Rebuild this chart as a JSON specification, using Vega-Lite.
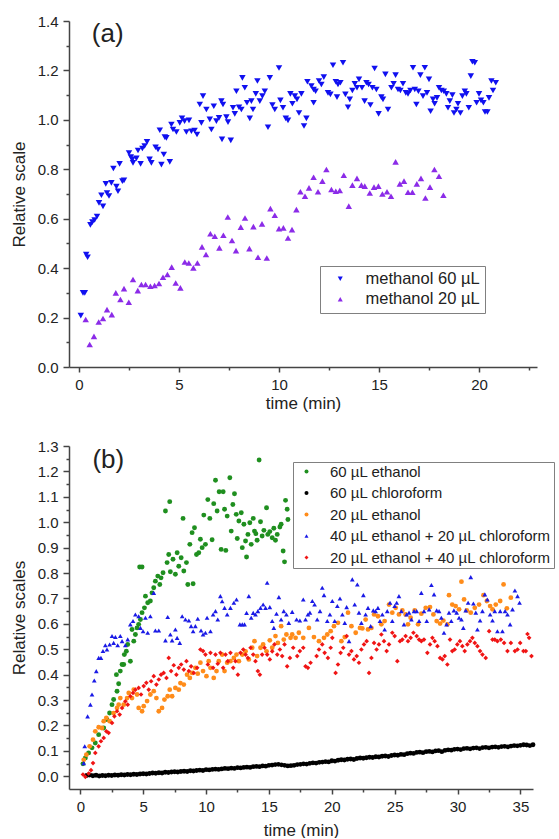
{
  "$schema": "https://vega.github.io/schema/vega-lite/v6.json",
  "padding": {"left": 10, "top": 14, "right": 0, "bottom": 0},
  "background": "white",
  "config": {"font": "Liberation Sans", "view": {"stroke": null}},
  "spacing": 79,
  "bounds": "flush",
  "resolve": {"scale": {"color": "independent", "shape": "independent"}, "legend": {"color": "independent", "shape": "independent"}},
  "vconcat": [
    {
      "width": 468,
      "height": 346,
      "layer": [
        {
          "data": {"values": [
            {"sa":"M60","t":0.09,"v":0.208},{"sa":"M60","t":0.2,"v":0.30},{"sa":"M60","t":0.29,"v":0.30},{"sa":"M60","t":0.36,"v":0.455},{"sa":"M60","t":0.43,"v":0.444},{"sa":"M60","t":0.57,"v":0.575},{"sa":"M60","t":0.67,"v":0.586},{"sa":"M60","t":0.78,"v":0.595},{"sa":"M60","t":0.9,"v":0.609},{"sa":"M60","t":1.0,"v":0.664},{"sa":"M60","t":1.2,"v":0.65},{"sa":"M60","t":1.12,"v":0.695},{"sa":"M60","t":1.34,"v":0.741},{"sa":"M60","t":1.5,"v":0.692},{"sa":"M60","t":1.4,"v":0.704},{"sa":"M60","t":1.62,"v":0.745},{"sa":"M60","t":1.72,"v":0.803},{"sa":"M60","t":1.95,"v":0.711},{"sa":"M60","t":1.87,"v":0.73},{"sa":"M60","t":2.03,"v":0.822},{"sa":"M60","t":2.17,"v":0.752},{"sa":"M60","t":2.25,"v":0.755},{"sa":"M60","t":2.5,"v":0.866},{"sa":"M60","t":2.59,"v":0.849},{"sa":"M60","t":2.7,"v":0.826},{"sa":"M60","t":2.67,"v":0.84},{"sa":"M60","t":2.87,"v":0.844},{"sa":"M60","t":2.95,"v":0.876},{"sa":"M60","t":3.08,"v":0.822},{"sa":"M60","t":3.17,"v":0.884},{"sa":"M60","t":3.28,"v":0.894},{"sa":"M60","t":3.4,"v":0.911},{"sa":"M60","t":3.53,"v":0.84},{"sa":"M60","t":3.62,"v":0.826},{"sa":"M60","t":3.83,"v":0.889},{"sa":"M60","t":3.95,"v":0.88},{"sa":"M60","t":4.12,"v":0.819},{"sa":"M60","t":4.24,"v":0.86},{"sa":"M60","t":4.54,"v":0.83},{"sa":"M60","t":4.04,"v":0.958},{"sa":"M60","t":4.37,"v":0.927},{"sa":"M60","t":4.29,"v":0.93},{"sa":"M60","t":4.62,"v":0.981},{"sa":"M60","t":4.7,"v":0.961},{"sa":"M60","t":4.87,"v":0.951},{"sa":"M60","t":5.04,"v":0.988},{"sa":"M60","t":5.15,"v":1.006},{"sa":"M60","t":5.28,"v":0.995},{"sa":"M60","t":5.37,"v":0.951},{"sa":"M60","t":5.5,"v":0.998},{"sa":"M60","t":5.62,"v":0.954},{"sa":"M60","t":5.78,"v":0.957},{"sa":"M60","t":5.9,"v":0.941},{"sa":"M60","t":6.04,"v":1.062},{"sa":"M60","t":6.12,"v":0.988},{"sa":"M60","t":6.2,"v":1.096},{"sa":"M60","t":6.37,"v":1.042},{"sa":"M60","t":6.54,"v":1.002},{"sa":"M60","t":6.62,"v":0.961},{"sa":"M60","t":6.74,"v":1.055},{"sa":"M60","t":6.87,"v":0.995},{"sa":"M60","t":7.0,"v":1.008},{"sa":"M60","t":7.12,"v":1.076},{"sa":"M60","t":7.15,"v":0.921},{"sa":"M60","t":7.2,"v":1.062},{"sa":"M60","t":7.37,"v":1.011},{"sa":"M60","t":7.45,"v":0.991},{"sa":"M60","t":7.59,"v":0.917},{"sa":"M60","t":7.7,"v":1.049},{"sa":"M60","t":7.79,"v":1.024},{"sa":"M60","t":7.87,"v":1.116},{"sa":"M60","t":8.0,"v":1.051},{"sa":"M60","t":8.12,"v":1.042},{"sa":"M60","t":8.17,"v":1.17},{"sa":"M60","t":8.29,"v":1.13},{"sa":"M60","t":8.4,"v":1.069},{"sa":"M60","t":8.54,"v":1.006},{"sa":"M60","t":8.62,"v":1.076},{"sa":"M60","t":8.7,"v":1.042},{"sa":"M60","t":8.84,"v":1.105},{"sa":"M60","t":8.92,"v":1.157},{"sa":"M60","t":9.04,"v":1.076},{"sa":"M60","t":9.17,"v":1.096},{"sa":"M60","t":9.29,"v":1.116},{"sa":"M60","t":9.45,"v":0.97},{"sa":"M60","t":9.54,"v":1.17},{"sa":"M60","t":9.67,"v":1.06},{"sa":"M60","t":9.79,"v":1.042},{"sa":"M60","t":10.0,"v":1.21},{"sa":"M60","t":10.07,"v":1.079},{"sa":"M60","t":10.2,"v":1.049},{"sa":"M60","t":10.34,"v":1.006},{"sa":"M60","t":10.45,"v":0.998},{"sa":"M60","t":10.57,"v":1.105},{"sa":"M60","t":10.67,"v":1.065},{"sa":"M60","t":10.79,"v":1.096},{"sa":"M60","t":10.9,"v":1.083},{"sa":"M60","t":11.0,"v":1.028},{"sa":"M60","t":11.12,"v":1.105},{"sa":"M60","t":11.25,"v":0.975},{"sa":"M60","t":11.37,"v":1.006},{"sa":"M60","t":11.42,"v":1.154},{"sa":"M60","t":11.62,"v":1.137},{"sa":"M60","t":11.73,"v":1.123},{"sa":"M60","t":11.83,"v":1.116},{"sa":"M60","t":11.73,"v":1.069},{"sa":"M60","t":12.0,"v":1.157},{"sa":"M60","t":12.12,"v":1.143},{"sa":"M60","t":12.24,"v":1.173},{"sa":"M60","t":12.45,"v":1.109},{"sa":"M60","t":12.57,"v":1.103},{"sa":"M60","t":12.7,"v":1.221},{"sa":"M60","t":12.84,"v":1.154},{"sa":"M60","t":12.95,"v":1.143},{"sa":"M60","t":13.07,"v":1.15},{"sa":"M60","t":12.9,"v":1.092},{"sa":"M60","t":13.2,"v":1.231},{"sa":"M60","t":13.32,"v":1.103},{"sa":"M60","t":13.45,"v":1.051},{"sa":"M60","t":13.54,"v":1.083},{"sa":"M60","t":13.67,"v":1.119},{"sa":"M60","t":13.79,"v":1.146},{"sa":"M60","t":13.9,"v":1.13},{"sa":"M60","t":14.0,"v":1.164},{"sa":"M60","t":14.15,"v":1.13},{"sa":"M60","t":14.28,"v":1.076},{"sa":"M60","t":14.37,"v":1.15},{"sa":"M60","t":14.48,"v":1.143},{"sa":"M60","t":14.57,"v":1.06},{"sa":"M60","t":14.67,"v":1.13},{"sa":"M60","t":14.78,"v":1.208},{"sa":"M60","t":14.87,"v":1.123},{"sa":"M60","t":14.98,"v":1.024},{"sa":"M60","t":15.12,"v":1.092},{"sa":"M60","t":15.2,"v":1.083},{"sa":"M60","t":15.32,"v":1.184},{"sa":"M60","t":15.45,"v":1.042},{"sa":"M60","t":15.62,"v":1.13},{"sa":"M60","t":15.73,"v":1.146},{"sa":"M60","t":15.83,"v":1.181},{"sa":"M60","t":15.95,"v":1.123},{"sa":"M60","t":16.07,"v":1.119},{"sa":"M60","t":16.2,"v":1.146},{"sa":"M60","t":16.34,"v":1.109},{"sa":"M60","t":16.45,"v":1.105},{"sa":"M60","t":16.57,"v":1.119},{"sa":"M60","t":16.7,"v":1.211},{"sa":"M60","t":16.79,"v":1.123},{"sa":"M60","t":16.87,"v":1.062},{"sa":"M60","t":16.97,"v":1.116},{"sa":"M60","t":17.07,"v":1.181},{"sa":"M60","t":17.2,"v":1.096},{"sa":"M60","t":17.29,"v":1.211},{"sa":"M60","t":17.4,"v":1.109},{"sa":"M60","t":17.5,"v":1.164},{"sa":"M60","t":17.58,"v":1.035},{"sa":"M60","t":17.7,"v":1.083},{"sa":"M60","t":17.78,"v":1.065},{"sa":"M60","t":17.9,"v":1.089},{"sa":"M60","t":18.0,"v":1.13},{"sa":"M60","t":18.12,"v":1.119},{"sa":"M60","t":18.24,"v":1.116},{"sa":"M60","t":18.37,"v":1.105},{"sa":"M60","t":18.45,"v":1.049},{"sa":"M60","t":18.54,"v":1.076},{"sa":"M60","t":18.67,"v":1.1},{"sa":"M60","t":18.75,"v":1.028},{"sa":"M60","t":18.87,"v":1.042},{"sa":"M60","t":18.95,"v":1.065},{"sa":"M60","t":19.07,"v":1.028},{"sa":"M60","t":19.17,"v":1.096},{"sa":"M60","t":19.29,"v":1.116},{"sa":"M60","t":19.37,"v":1.105},{"sa":"M60","t":19.49,"v":1.049},{"sa":"M60","t":19.59,"v":1.177},{"sa":"M60","t":19.67,"v":1.235},{"sa":"M60","t":19.79,"v":1.231},{"sa":"M60","t":19.88,"v":1.069},{"sa":"M60","t":20.0,"v":1.105},{"sa":"M60","t":20.1,"v":1.079},{"sa":"M60","t":20.22,"v":1.069},{"sa":"M60","t":20.3,"v":1.032},{"sa":"M60","t":20.42,"v":1.032},{"sa":"M60","t":20.5,"v":1.089},{"sa":"M60","t":20.62,"v":1.157},{"sa":"M60","t":20.7,"v":1.119},{"sa":"M60","t":20.84,"v":1.15},
            {"sa":"M20","t":0.335,"v":0.192},{"sa":"M20","t":0.535,"v":0.091},{"sa":"M20","t":0.75,"v":0.124},{"sa":"M20","t":0.985,"v":0.182},{"sa":"M20","t":1.2,"v":0.196},{"sa":"M20","t":1.4,"v":0.232},{"sa":"M20","t":1.64,"v":0.212},{"sa":"M20","t":1.84,"v":0.30},{"sa":"M20","t":2.07,"v":0.273},{"sa":"M20","t":2.25,"v":0.317},{"sa":"M20","t":2.49,"v":0.262},{"sa":"M20","t":2.7,"v":0.354},{"sa":"M20","t":2.94,"v":0.309},{"sa":"M20","t":3.12,"v":0.334},{"sa":"M20","t":3.33,"v":0.334},{"sa":"M20","t":3.57,"v":0.327},{"sa":"M20","t":3.78,"v":0.33},{"sa":"M20","t":4.0,"v":0.338},{"sa":"M20","t":4.2,"v":0.363},{"sa":"M20","t":4.42,"v":0.374},{"sa":"M20","t":4.635,"v":0.404},{"sa":"M20","t":4.835,"v":0.34},{"sa":"M20","t":5.07,"v":0.32},{"sa":"M20","t":5.29,"v":0.425},{"sa":"M20","t":5.49,"v":0.421},{"sa":"M20","t":5.72,"v":0.401},{"sa":"M20","t":5.92,"v":0.421},{"sa":"M20","t":6.15,"v":0.486},{"sa":"M20","t":6.35,"v":0.455},{"sa":"M20","t":6.57,"v":0.539},{"sa":"M20","t":6.79,"v":0.529},{"sa":"M20","t":7.02,"v":0.482},{"sa":"M20","t":7.22,"v":0.533},{"sa":"M20","t":7.44,"v":0.607},{"sa":"M20","t":7.65,"v":0.512},{"sa":"M20","t":7.85,"v":0.471},{"sa":"M20","t":8.09,"v":0.566},{"sa":"M20","t":8.3,"v":0.603},{"sa":"M20","t":8.52,"v":0.479},{"sa":"M20","t":8.72,"v":0.568},{"sa":"M20","t":8.95,"v":0.444},{"sa":"M20","t":9.15,"v":0.579},{"sa":"M20","t":9.39,"v":0.441},{"sa":"M20","t":9.57,"v":0.641},{"sa":"M20","t":9.79,"v":0.614},{"sa":"M20","t":10.0,"v":0.56},{"sa":"M20","t":10.22,"v":0.563},{"sa":"M20","t":10.45,"v":0.522},{"sa":"M20","t":10.65,"v":0.556},{"sa":"M20","t":10.87,"v":0.637},{"sa":"M20","t":11.07,"v":0.709},{"sa":"M20","t":11.3,"v":0.691},{"sa":"M20","t":11.5,"v":0.725},{"sa":"M20","t":11.73,"v":0.768},{"sa":"M20","t":11.95,"v":0.709},{"sa":"M20","t":12.17,"v":0.752},{"sa":"M20","t":12.37,"v":0.799},{"sa":"M20","t":12.62,"v":0.718},{"sa":"M20","t":12.84,"v":0.711},{"sa":"M20","t":13.04,"v":0.714},{"sa":"M20","t":13.24,"v":0.776},{"sa":"M20","t":13.49,"v":0.651},{"sa":"M20","t":13.67,"v":0.736},{"sa":"M20","t":13.9,"v":0.763},{"sa":"M20","t":14.12,"v":0.736},{"sa":"M20","t":14.29,"v":0.732},{"sa":"M20","t":14.54,"v":0.704},{"sa":"M20","t":14.75,"v":0.728},{"sa":"M20","t":14.97,"v":0.732},{"sa":"M20","t":15.17,"v":0.70},{"sa":"M20","t":15.4,"v":0.709},{"sa":"M20","t":15.6,"v":0.691},{"sa":"M20","t":15.83,"v":0.83},{"sa":"M20","t":16.04,"v":0.741},{"sa":"M20","t":16.25,"v":0.752},{"sa":"M20","t":16.45,"v":0.707},{"sa":"M20","t":16.67,"v":0.707},{"sa":"M20","t":16.89,"v":0.741},{"sa":"M20","t":17.1,"v":0.763},{"sa":"M20","t":17.32,"v":0.684},{"sa":"M20","t":17.55,"v":0.728},{"sa":"M20","t":17.77,"v":0.799},{"sa":"M20","t":18.0,"v":0.772},{"sa":"M20","t":18.22,"v":0.695}
          ]},
          "mark": {"type": "point", "filled": true, "opacity": 1, "size": 42},
          "encoding": {
            "x": {"field": "t", "type": "quantitative", "scale": {"domain": [-0.5, 22.9], "nice": false, "zero": false},
              "axis": {"orient": "bottom", "values": [0, 5, 10, 15, 20], "title": "time (min)", "grid": false, "tickSize": 5, "tickWidth": 1.5, "domainWidth": 1.5, "domainColor": "#444", "tickColor": "#444", "labelColor": "#222", "titleColor": "#222", "labelFontSize": 15, "titleFontSize": 17, "titleFontWeight": "normal", "labelPadding": 5, "titleY": 36, "titleBaseline": "middle", "labelFlush": false}},
            "y": {"field": "v", "type": "quantitative", "scale": {"domain": [0, 1.4], "nice": false, "zero": false},
              "axis": {"orient": "left", "values": [0, 0.2, 0.4, 0.6, 0.8, 1.0, 1.2, 1.4], "format": ".1f", "title": "Relative scale", "grid": false, "tickSize": 6, "tickWidth": 1.5, "domainWidth": 1.5, "domainColor": "#444", "tickColor": "#444", "labelColor": "#222", "titleColor": "#222", "labelFontSize": 15, "titleFontSize": 17, "titleFontWeight": "normal", "labelPadding": 5, "titleX": -50, "titleBaseline": "middle", "labelFlush": false}},
            "color": {"field": "sa", "type": "nominal", "scale": {"domain": ["M60", "M20"], "range": ["#1010f0", "#8b2be8"]},
              "legend": {"orient": "none", "legendX": 251, "legendY": 245, "title": null, "strokeColor": "#808080", "fillColor": "white", "padding": 4.5, "symbolOffset": 7.5, "labelOffset": 17, "labelFontSize": 16.5, "labelLimit": 300, "labelColor": "#222", "rowPadding": 3.5, "symbolSize": 25, "labelExpr": "datum.label == 'M60' ? 'methanol 60 µL' : 'methanol 20 µL'"}},
            "shape": {"field": "sa", "type": "nominal", "scale": {"domain": ["M60", "M20"], "range": ["triangle-down", "triangle-up"]},
              "legend": {"orient": "none", "legendX": 251, "legendY": 245, "title": null, "strokeColor": "#808080", "fillColor": "white", "padding": 4.5, "symbolOffset": 7.5, "labelOffset": 17, "labelFontSize": 16.5, "labelLimit": 300, "labelColor": "#222", "rowPadding": 3.5, "symbolSize": 25, "labelExpr": "datum.label == 'M60' ? 'methanol 60 µL' : 'methanol 20 µL'"}}
          }
        },
        {
          "data": {"values": [{}]},
          "mark": {"type": "point", "opacity": 0},
          "encoding": {
            "x": {"datum": 0, "type": "quantitative", "axis": {"orient": "bottom", "values": [2.5, 7.5, 12.5, 17.5, 22.5], "labels": false, "domain": false, "title": null, "grid": false, "tickSize": 3, "tickWidth": 1.5, "tickColor": "#444"}},
            "y": {"datum": 0, "type": "quantitative", "axis": {"orient": "left", "values": [0.1, 0.3, 0.5, 0.7, 0.9, 1.1, 1.3], "labels": false, "domain": false, "title": null, "grid": false, "tickSize": 3, "tickWidth": 1.5, "tickColor": "#444"}}
          }
        },
        {
          "data": {"values": [{"t": 0.64, "v": 1.347, "lab": "(a)"}]},
          "mark": {"type": "text", "align": "left", "baseline": "middle", "fontSize": 26, "color": "#222"},
          "encoding": {
            "x": {"field": "t", "type": "quantitative", "axis": null},
            "y": {"field": "v", "type": "quantitative", "axis": null},
            "text": {"field": "lab"}
          }
        }
      ],
      "resolve": {"axis": {"x": "independent", "y": "independent"}}
    },
    {
      "width": 464,
      "height": 343,
      "layer": [
        {
          "data": {"values": [
            {"sb":"E60","t":0.21,"v":0.049},{"sb":"E60","t":0.4,"v":0.072},{"sb":"E60","t":0.66,"v":0.092},{"sb":"E60","t":0.93,"v":0.112},{"sb":"E60","t":1.19,"v":0.131},{"sb":"E60","t":1.46,"v":0.164},{"sb":"E60","t":1.86,"v":0.19},{"sb":"E60","t":2.12,"v":0.223},{"sb":"E60","t":2.33,"v":0.249},{"sb":"E60","t":2.52,"v":0.282},{"sb":"E60","t":2.65,"v":0.302},{"sb":"E60","t":2.92,"v":0.335},{"sb":"E60","t":2.87,"v":0.4},{"sb":"E60","t":3.05,"v":0.364},{"sb":"E60","t":3.18,"v":0.414},{"sb":"E60","t":3.32,"v":0.44},{"sb":"E60","t":3.45,"v":0.44},{"sb":"E60","t":3.5,"v":0.479},{"sb":"E60","t":3.66,"v":0.492},{"sb":"E60","t":3.77,"v":0.519},{"sb":"E60","t":3.98,"v":0.453},{"sb":"E60","t":4.11,"v":0.578},{"sb":"E60","t":4.25,"v":0.532},{"sb":"E60","t":4.38,"v":0.558},{"sb":"E60","t":4.51,"v":0.584},{"sb":"E60","t":4.64,"v":0.598},{"sb":"E60","t":4.78,"v":0.617},{"sb":"E60","t":4.91,"v":0.644},{"sb":"E60","t":5.1,"v":0.663},{"sb":"E60","t":5.18,"v":0.709},{"sb":"E60","t":5.36,"v":0.683},{"sb":"E60","t":5.57,"v":0.69},{"sb":"E60","t":5.7,"v":0.722},{"sb":"E60","t":5.84,"v":0.742},{"sb":"E60","t":5.97,"v":0.768},{"sb":"E60","t":4.72,"v":0.824},{"sb":"E60","t":4.91,"v":0.824},{"sb":"E60","t":6.16,"v":0.788},{"sb":"E60","t":6.32,"v":0.755},{"sb":"E60","t":6.42,"v":0.781},{"sb":"E60","t":6.58,"v":0.801},{"sb":"E60","t":6.77,"v":1.044},{"sb":"E60","t":7.11,"v":1.081},{"sb":"E60","t":6.9,"v":0.841},{"sb":"E60","t":7.03,"v":0.873},{"sb":"E60","t":7.16,"v":0.805},{"sb":"E60","t":7.37,"v":0.854},{"sb":"E60","t":7.56,"v":0.795},{"sb":"E60","t":7.7,"v":0.88},{"sb":"E60","t":7.83,"v":0.827},{"sb":"E60","t":8.02,"v":0.86},{"sb":"E60","t":8.17,"v":1.015},{"sb":"E60","t":8.23,"v":0.808},{"sb":"E60","t":8.44,"v":0.841},{"sb":"E60","t":8.55,"v":0.755},{"sb":"E60","t":8.71,"v":0.913},{"sb":"E60","t":8.89,"v":0.959},{"sb":"E60","t":8.97,"v":0.758},{"sb":"E60","t":9.08,"v":0.978},{"sb":"E60","t":9.24,"v":0.873},{"sb":"E60","t":9.42,"v":0.88},{"sb":"E60","t":9.55,"v":0.933},{"sb":"E60","t":9.69,"v":0.9},{"sb":"E60","t":9.82,"v":1.028},{"sb":"E60","t":9.95,"v":0.913},{"sb":"E60","t":10.14,"v":1.089},{"sb":"E60","t":10.3,"v":1.015},{"sb":"E60","t":10.48,"v":0.931},{"sb":"E60","t":10.61,"v":1.073},{"sb":"E60","t":10.75,"v":1.165},{"sb":"E60","t":10.88,"v":1.044},{"sb":"E60","t":11.04,"v":1.12},{"sb":"E60","t":11.2,"v":0.893},{"sb":"E60","t":11.36,"v":1.12},{"sb":"E60","t":11.47,"v":1.051},{"sb":"E60","t":11.57,"v":0.889},{"sb":"E60","t":11.68,"v":1.024},{"sb":"E60","t":11.89,"v":1.175},{"sb":"E60","t":12.0,"v":0.965},{"sb":"E60","t":12.13,"v":1.07},{"sb":"E60","t":12.26,"v":1.112},{"sb":"E60","t":12.4,"v":1.031},{"sb":"E60","t":12.48,"v":0.936},{"sb":"E60","t":12.61,"v":1.005},{"sb":"E60","t":12.8,"v":1.037},{"sb":"E60","t":12.88,"v":0.9},{"sb":"E60","t":13.01,"v":0.992},{"sb":"E60","t":13.14,"v":0.926},{"sb":"E60","t":13.22,"v":0.863},{"sb":"E60","t":13.33,"v":0.952},{"sb":"E60","t":13.48,"v":0.998},{"sb":"E60","t":13.59,"v":0.913},{"sb":"E60","t":13.75,"v":1.015},{"sb":"E60","t":13.85,"v":0.965},{"sb":"E60","t":13.96,"v":0.955},{"sb":"E60","t":14.06,"v":0.929},{"sb":"E60","t":14.22,"v":1.245},{"sb":"E60","t":14.33,"v":1.002},{"sb":"E60","t":14.46,"v":0.946},{"sb":"E60","t":14.6,"v":0.968},{"sb":"E60","t":14.81,"v":1.057},{"sb":"E60","t":14.91,"v":0.952},{"sb":"E60","t":15.07,"v":0.963},{"sb":"E60","t":15.26,"v":0.939},{"sb":"E60","t":15.39,"v":0.976},{"sb":"E60","t":15.52,"v":0.929},{"sb":"E60","t":15.66,"v":0.952},{"sb":"E60","t":15.87,"v":0.981},{"sb":"E60","t":15.97,"v":0.992},{"sb":"E60","t":16.13,"v":0.887},{"sb":"E60","t":16.24,"v":0.844},{"sb":"E60","t":16.32,"v":1.086},{"sb":"E60","t":16.51,"v":1.011},{"sb":"E60","t":16.45,"v":1.051},
            {"sb":"C60","t":0.5,"v":0.003},{"sb":"C60","t":0.75,"v":0.005},{"sb":"C60","t":1.0,"v":0.002},{"sb":"C60","t":1.25,"v":0.004},{"sb":"C60","t":1.5,"v":0.001},{"sb":"C60","t":1.75,"v":0.003},{"sb":"C60","t":2.0,"v":0.002},{"sb":"C60","t":2.25,"v":0.004},{"sb":"C60","t":2.5,"v":0.003},{"sb":"C60","t":2.75,"v":0.005},{"sb":"C60","t":3.0,"v":0.004},{"sb":"C60","t":3.25,"v":0.006},{"sb":"C60","t":3.5,"v":0.005},{"sb":"C60","t":3.75,"v":0.007},{"sb":"C60","t":4.0,"v":0.006},{"sb":"C60","t":4.25,"v":0.008},{"sb":"C60","t":4.5,"v":0.007},{"sb":"C60","t":4.75,"v":0.009},{"sb":"C60","t":5.0,"v":0.01},{"sb":"C60","t":5.25,"v":0.009},{"sb":"C60","t":5.5,"v":0.011},{"sb":"C60","t":5.75,"v":0.013},{"sb":"C60","t":6.0,"v":0.012},{"sb":"C60","t":6.25,"v":0.014},{"sb":"C60","t":6.5,"v":0.013},{"sb":"C60","t":6.75,"v":0.016},{"sb":"C60","t":7.0,"v":0.015},{"sb":"C60","t":7.25,"v":0.017},{"sb":"C60","t":7.5,"v":0.018},{"sb":"C60","t":7.75,"v":0.017},{"sb":"C60","t":8.0,"v":0.019},{"sb":"C60","t":8.25,"v":0.02},{"sb":"C60","t":8.5,"v":0.019},{"sb":"C60","t":8.75,"v":0.022},{"sb":"C60","t":9.0,"v":0.021},{"sb":"C60","t":9.25,"v":0.023},{"sb":"C60","t":9.5,"v":0.024},{"sb":"C60","t":9.75,"v":0.023},{"sb":"C60","t":10.0,"v":0.026},{"sb":"C60","t":10.25,"v":0.025},{"sb":"C60","t":10.5,"v":0.027},{"sb":"C60","t":10.75,"v":0.028},{"sb":"C60","t":11.0,"v":0.027},{"sb":"C60","t":11.25,"v":0.029},{"sb":"C60","t":11.5,"v":0.031},{"sb":"C60","t":11.75,"v":0.03},{"sb":"C60","t":12.0,"v":0.032},{"sb":"C60","t":12.25,"v":0.031},{"sb":"C60","t":12.5,"v":0.034},{"sb":"C60","t":12.75,"v":0.033},{"sb":"C60","t":13.0,"v":0.035},{"sb":"C60","t":13.25,"v":0.036},{"sb":"C60","t":13.5,"v":0.035},{"sb":"C60","t":13.75,"v":0.038},{"sb":"C60","t":14.0,"v":0.039},{"sb":"C60","t":14.25,"v":0.038},{"sb":"C60","t":14.5,"v":0.041},{"sb":"C60","t":14.75,"v":0.04},{"sb":"C60","t":15.0,"v":0.043},{"sb":"C60","t":15.25,"v":0.044},{"sb":"C60","t":15.5,"v":0.046},{"sb":"C60","t":15.75,"v":0.047},{"sb":"C60","t":16.0,"v":0.045},{"sb":"C60","t":16.25,"v":0.043},{"sb":"C60","t":16.5,"v":0.041},{"sb":"C60","t":16.75,"v":0.042},{"sb":"C60","t":17.0,"v":0.043},{"sb":"C60","t":17.25,"v":0.046},{"sb":"C60","t":17.5,"v":0.047},{"sb":"C60","t":17.75,"v":0.049},{"sb":"C60","t":18.0,"v":0.048},{"sb":"C60","t":18.25,"v":0.051},{"sb":"C60","t":18.5,"v":0.053},{"sb":"C60","t":18.75,"v":0.052},{"sb":"C60","t":19.0,"v":0.055},{"sb":"C60","t":19.25,"v":0.056},{"sb":"C60","t":19.5,"v":0.058},{"sb":"C60","t":19.75,"v":0.057},{"sb":"C60","t":20.0,"v":0.061},{"sb":"C60","t":20.25,"v":0.06},{"sb":"C60","t":20.5,"v":0.063},{"sb":"C60","t":20.75,"v":0.065},{"sb":"C60","t":21.0,"v":0.064},{"sb":"C60","t":21.25,"v":0.067},{"sb":"C60","t":21.5,"v":0.068},{"sb":"C60","t":21.75,"v":0.066},{"sb":"C60","t":22.0,"v":0.07},{"sb":"C60","t":22.25,"v":0.072},{"sb":"C60","t":22.5,"v":0.071},{"sb":"C60","t":22.75,"v":0.073},{"sb":"C60","t":23.0,"v":0.075},{"sb":"C60","t":23.25,"v":0.074},{"sb":"C60","t":23.5,"v":0.077},{"sb":"C60","t":23.75,"v":0.076},{"sb":"C60","t":24.0,"v":0.079},{"sb":"C60","t":24.25,"v":0.08},{"sb":"C60","t":24.5,"v":0.078},{"sb":"C60","t":24.75,"v":0.082},{"sb":"C60","t":25.0,"v":0.084},{"sb":"C60","t":25.25,"v":0.083},{"sb":"C60","t":25.5,"v":0.086},{"sb":"C60","t":25.75,"v":0.085},{"sb":"C60","t":26.0,"v":0.089},{"sb":"C60","t":26.25,"v":0.091},{"sb":"C60","t":26.5,"v":0.09},{"sb":"C60","t":26.75,"v":0.094},{"sb":"C60","t":27.0,"v":0.095},{"sb":"C60","t":27.25,"v":0.093},{"sb":"C60","t":27.5,"v":0.097},{"sb":"C60","t":27.75,"v":0.098},{"sb":"C60","t":28.0,"v":0.096},{"sb":"C60","t":28.25,"v":0.1},{"sb":"C60","t":28.5,"v":0.101},{"sb":"C60","t":28.75,"v":0.097},{"sb":"C60","t":29.0,"v":0.102},{"sb":"C60","t":29.25,"v":0.104},{"sb":"C60","t":29.5,"v":0.103},{"sb":"C60","t":29.75,"v":0.106},{"sb":"C60","t":30.0,"v":0.107},{"sb":"C60","t":30.25,"v":0.105},{"sb":"C60","t":30.5,"v":0.109},{"sb":"C60","t":30.75,"v":0.11},{"sb":"C60","t":31.0,"v":0.108},{"sb":"C60","t":31.25,"v":0.111},{"sb":"C60","t":31.5,"v":0.112},{"sb":"C60","t":31.75,"v":0.109},{"sb":"C60","t":32.0,"v":0.113},{"sb":"C60","t":32.25,"v":0.114},{"sb":"C60","t":32.5,"v":0.112},{"sb":"C60","t":32.75,"v":0.115},{"sb":"C60","t":33.0,"v":0.116},{"sb":"C60","t":33.25,"v":0.114},{"sb":"C60","t":33.5,"v":0.117},{"sb":"C60","t":33.75,"v":0.118},{"sb":"C60","t":34.0,"v":0.116},{"sb":"C60","t":34.25,"v":0.119},{"sb":"C60","t":34.5,"v":0.121},{"sb":"C60","t":34.75,"v":0.12},{"sb":"C60","t":35.0,"v":0.122},{"sb":"C60","t":35.25,"v":0.124},{"sb":"C60","t":35.5,"v":0.123},{"sb":"C60","t":35.75,"v":0.121},{"sb":"C60","t":36.0,"v":0.124},
            {"sb":"E20","t":0.27,"v":0.065},{"sb":"E20","t":0.48,"v":0.085},{"sb":"E20","t":0.74,"v":0.118},{"sb":"E20","t":1.01,"v":0.144},{"sb":"E20","t":1.19,"v":0.177},{"sb":"E20","t":1.46,"v":0.193},{"sb":"E20","t":1.72,"v":0.19},{"sb":"E20","t":1.86,"v":0.217},{"sb":"E20","t":2.07,"v":0.23},{"sb":"E20","t":2.33,"v":0.217},{"sb":"E20","t":2.65,"v":0.249},{"sb":"E20","t":2.92,"v":0.269},{"sb":"E20","t":3.05,"v":0.282},{"sb":"E20","t":3.18,"v":0.308},{"sb":"E20","t":3.45,"v":0.282},{"sb":"E20","t":3.72,"v":0.308},{"sb":"E20","t":3.85,"v":0.328},{"sb":"E20","t":4.11,"v":0.308},{"sb":"E20","t":4.25,"v":0.341},{"sb":"E20","t":4.51,"v":0.322},{"sb":"E20","t":4.64,"v":0.269},{"sb":"E20","t":4.91,"v":0.256},{"sb":"E20","t":5.04,"v":0.276},{"sb":"E20","t":5.31,"v":0.296},{"sb":"E20","t":5.57,"v":0.322},{"sb":"E20","t":5.84,"v":0.335},{"sb":"E20","t":6.05,"v":0.308},{"sb":"E20","t":6.24,"v":0.256},{"sb":"E20","t":6.5,"v":0.269},{"sb":"E20","t":6.69,"v":0.302},{"sb":"E20","t":6.95,"v":0.315},{"sb":"E20","t":7.11,"v":0.341},{"sb":"E20","t":7.3,"v":0.315},{"sb":"E20","t":7.56,"v":0.348},{"sb":"E20","t":7.83,"v":0.341},{"sb":"E20","t":7.96,"v":0.367},{"sb":"E20","t":8.23,"v":0.361},{"sb":"E20","t":8.49,"v":0.4},{"sb":"E20","t":8.71,"v":0.387},{"sb":"E20","t":8.89,"v":0.407},{"sb":"E20","t":9.15,"v":0.427},{"sb":"E20","t":9.34,"v":0.404},{"sb":"E20","t":9.55,"v":0.447},{"sb":"E20","t":9.76,"v":0.414},{"sb":"E20","t":10.03,"v":0.394},{"sb":"E20","t":10.21,"v":0.453},{"sb":"E20","t":10.35,"v":0.427},{"sb":"E20","t":10.61,"v":0.387},{"sb":"E20","t":10.83,"v":0.414},{"sb":"E20","t":11.01,"v":0.453},{"sb":"E20","t":11.28,"v":0.479},{"sb":"E20","t":11.47,"v":0.414},{"sb":"E20","t":11.68,"v":0.447},{"sb":"E20","t":11.94,"v":0.453},{"sb":"E20","t":12.21,"v":0.466},{"sb":"E20","t":12.42,"v":0.479},{"sb":"E20","t":12.61,"v":0.453},{"sb":"E20","t":12.88,"v":0.479},{"sb":"E20","t":13.14,"v":0.492},{"sb":"E20","t":13.4,"v":0.46},{"sb":"E20","t":13.67,"v":0.506},{"sb":"E20","t":13.85,"v":0.532},{"sb":"E20","t":14.06,"v":0.473},{"sb":"E20","t":14.33,"v":0.506},{"sb":"E20","t":14.54,"v":0.519},{"sb":"E20","t":14.81,"v":0.492},{"sb":"E20","t":15.07,"v":0.535},{"sb":"E20","t":15.26,"v":0.506},{"sb":"E20","t":15.52,"v":0.552},{"sb":"E20","t":15.71,"v":0.525},{"sb":"E20","t":15.97,"v":0.591},{"sb":"E20","t":16.18,"v":0.538},{"sb":"E20","t":16.39,"v":0.558},{"sb":"E20","t":16.72,"v":0.545},{"sb":"E20","t":16.85,"v":0.558},{"sb":"E20","t":17.12,"v":0.545},{"sb":"E20","t":17.38,"v":0.565},{"sb":"E20","t":17.73,"v":0.545},{"sb":"E20","t":18.18,"v":0.584},{"sb":"E20","t":18.58,"v":0.548},{"sb":"E20","t":18.98,"v":0.532},{"sb":"E20","t":19.38,"v":0.545},{"sb":"E20","t":19.64,"v":0.558},{"sb":"E20","t":19.91,"v":0.571},{"sb":"E20","t":20.17,"v":0.591},{"sb":"E20","t":20.49,"v":0.604},{"sb":"E20","t":20.76,"v":0.532},{"sb":"E20","t":21.03,"v":0.548},{"sb":"E20","t":21.29,"v":0.644},{"sb":"E20","t":21.56,"v":0.591},{"sb":"E20","t":21.9,"v":0.565},{"sb":"E20","t":22.24,"v":0.584},{"sb":"E20","t":22.43,"v":0.582},{"sb":"E20","t":22.69,"v":0.617},{"sb":"E20","t":22.88,"v":0.578},{"sb":"E20","t":23.15,"v":0.584},{"sb":"E20","t":23.36,"v":0.637},{"sb":"E20","t":23.67,"v":0.63},{"sb":"E20","t":23.94,"v":0.598},{"sb":"E20","t":24.2,"v":0.611},{"sb":"E20","t":24.55,"v":0.676},{"sb":"E20","t":24.81,"v":0.644},{"sb":"E20","t":25.08,"v":0.663},{"sb":"E20","t":25.34,"v":0.637},{"sb":"E20","t":25.61,"v":0.653},{"sb":"E20","t":25.87,"v":0.637},{"sb":"E20","t":26.06,"v":0.598},{"sb":"E20","t":26.27,"v":0.624},{"sb":"E20","t":26.59,"v":0.653},{"sb":"E20","t":26.86,"v":0.598},{"sb":"E20","t":27.12,"v":0.64},{"sb":"E20","t":27.47,"v":0.663},{"sb":"E20","t":27.81,"v":0.666},{"sb":"E20","t":28.08,"v":0.637},{"sb":"E20","t":28.34,"v":0.611},{"sb":"E20","t":28.61,"v":0.601},{"sb":"E20","t":28.87,"v":0.613},{"sb":"E20","t":29.19,"v":0.598},{"sb":"E20","t":29.32,"v":0.713},{"sb":"E20","t":29.58,"v":0.676},{"sb":"E20","t":29.85,"v":0.67},{"sb":"E20","t":30.12,"v":0.657},{"sb":"E20","t":30.31,"v":0.766},{"sb":"E20","t":30.52,"v":0.696},{"sb":"E20","t":30.73,"v":0.653},{"sb":"E20","t":31.05,"v":0.644},{"sb":"E20","t":31.37,"v":0.663},{"sb":"E20","t":31.71,"v":0.676},{"sb":"E20","t":32.06,"v":0.713},{"sb":"E20","t":32.33,"v":0.69},{"sb":"E20","t":32.59,"v":0.67},{"sb":"E20","t":32.78,"v":0.657},{"sb":"E20","t":33.04,"v":0.676},{"sb":"E20","t":33.39,"v":0.69},{"sb":"E20","t":33.66,"v":0.755},{"sb":"E20","t":33.92,"v":0.661},{"sb":"E20","t":34.24,"v":0.703},
            {"sb":"E40C20","t":0.27,"v":0.052},{"sb":"E40C20","t":0.35,"v":0.118},{"sb":"E40C20","t":0.58,"v":0.236},{"sb":"E40C20","t":0.8,"v":0.282},{"sb":"E40C20","t":0.93,"v":0.322},{"sb":"E40C20","t":1.11,"v":0.377},{"sb":"E40C20","t":1.27,"v":0.414},{"sb":"E40C20","t":1.46,"v":0.466},{"sb":"E40C20","t":1.64,"v":0.466},{"sb":"E40C20","t":1.8,"v":0.493},{"sb":"E40C20","t":1.99,"v":0.516},{"sb":"E40C20","t":2.12,"v":0.499},{"sb":"E40C20","t":2.33,"v":0.519},{"sb":"E40C20","t":2.52,"v":0.552},{"sb":"E40C20","t":2.65,"v":0.525},{"sb":"E40C20","t":2.79,"v":0.548},{"sb":"E40C20","t":2.97,"v":0.516},{"sb":"E40C20","t":3.18,"v":0.552},{"sb":"E40C20","t":3.32,"v":0.532},{"sb":"E40C20","t":3.58,"v":0.516},{"sb":"E40C20","t":3.77,"v":0.539},{"sb":"E40C20","t":3.98,"v":0.598},{"sb":"E40C20","t":4.19,"v":0.611},{"sb":"E40C20","t":4.38,"v":0.637},{"sb":"E40C20","t":4.64,"v":0.63},{"sb":"E40C20","t":4.78,"v":0.584},{"sb":"E40C20","t":4.99,"v":0.571},{"sb":"E40C20","t":5.18,"v":0.624},{"sb":"E40C20","t":5.36,"v":0.565},{"sb":"E40C20","t":5.57,"v":0.63},{"sb":"E40C20","t":5.84,"v":0.722},{"sb":"E40C20","t":5.97,"v":0.574},{"sb":"E40C20","t":6.24,"v":0.574},{"sb":"E40C20","t":6.77,"v":0.535},{"sb":"E40C20","t":6.95,"v":0.627},{"sb":"E40C20","t":7.16,"v":0.558},{"sb":"E40C20","t":7.3,"v":0.535},{"sb":"E40C20","t":7.56,"v":0.578},{"sb":"E40C20","t":7.7,"v":0.545},{"sb":"E40C20","t":7.91,"v":0.525},{"sb":"E40C20","t":8.1,"v":0.63},{"sb":"E40C20","t":8.36,"v":0.617},{"sb":"E40C20","t":8.63,"v":0.613},{"sb":"E40C20","t":8.81,"v":0.591},{"sb":"E40C20","t":8.97,"v":0.571},{"sb":"E40C20","t":9.15,"v":0.591},{"sb":"E40C20","t":9.34,"v":0.62},{"sb":"E40C20","t":9.6,"v":0.574},{"sb":"E40C20","t":9.76,"v":0.558},{"sb":"E40C20","t":9.95,"v":0.565},{"sb":"E40C20","t":10.08,"v":0.624},{"sb":"E40C20","t":10.35,"v":0.571},{"sb":"E40C20","t":10.56,"v":0.637},{"sb":"E40C20","t":10.75,"v":0.65},{"sb":"E40C20","t":10.93,"v":0.617},{"sb":"E40C20","t":11.14,"v":0.709},{"sb":"E40C20","t":11.28,"v":0.689},{"sb":"E40C20","t":11.47,"v":0.663},{"sb":"E40C20","t":11.68,"v":0.637},{"sb":"E40C20","t":11.94,"v":0.663},{"sb":"E40C20","t":12.21,"v":0.683},{"sb":"E40C20","t":12.42,"v":0.696},{"sb":"E40C20","t":12.69,"v":0.598},{"sb":"E40C20","t":12.88,"v":0.598},{"sb":"E40C20","t":13.06,"v":0.598},{"sb":"E40C20","t":13.22,"v":0.643},{"sb":"E40C20","t":13.4,"v":0.709},{"sb":"E40C20","t":13.59,"v":0.624},{"sb":"E40C20","t":13.75,"v":0.643},{"sb":"E40C20","t":13.93,"v":0.637},{"sb":"E40C20","t":14.12,"v":0.65},{"sb":"E40C20","t":14.33,"v":0.663},{"sb":"E40C20","t":14.54,"v":0.676},{"sb":"E40C20","t":14.73,"v":0.663},{"sb":"E40C20","t":14.86,"v":0.762},{"sb":"E40C20","t":15.07,"v":0.666},{"sb":"E40C20","t":15.26,"v":0.611},{"sb":"E40C20","t":15.39,"v":0.584},{"sb":"E40C20","t":15.6,"v":0.64},{"sb":"E40C20","t":15.79,"v":0.705},{"sb":"E40C20","t":15.97,"v":0.617},{"sb":"E40C20","t":16.18,"v":0.65},{"sb":"E40C20","t":16.39,"v":0.637},{"sb":"E40C20","t":16.58,"v":0.604},{"sb":"E40C20","t":16.85,"v":0.647},{"sb":"E40C20","t":17.2,"v":0.617},{"sb":"E40C20","t":17.46,"v":0.613},{"sb":"E40C20","t":17.73,"v":0.696},{"sb":"E40C20","t":17.91,"v":0.617},{"sb":"E40C20","t":18.1,"v":0.637},{"sb":"E40C20","t":18.26,"v":0.644},{"sb":"E40C20","t":18.45,"v":0.69},{"sb":"E40C20","t":18.63,"v":0.676},{"sb":"E40C20","t":18.84,"v":0.617},{"sb":"E40C20","t":19.06,"v":0.65},{"sb":"E40C20","t":19.24,"v":0.742},{"sb":"E40C20","t":19.38,"v":0.713},{"sb":"E40C20","t":19.64,"v":0.611},{"sb":"E40C20","t":19.85,"v":0.637},{"sb":"E40C20","t":20.04,"v":0.69},{"sb":"E40C20","t":20.23,"v":0.611},{"sb":"E40C20","t":20.44,"v":0.67},{"sb":"E40C20","t":20.65,"v":0.7},{"sb":"E40C20","t":20.84,"v":0.637},{"sb":"E40C20","t":21.03,"v":0.604},{"sb":"E40C20","t":21.18,"v":0.666},{"sb":"E40C20","t":21.37,"v":0.532},{"sb":"E40C20","t":21.63,"v":0.775},{"sb":"E40C20","t":21.82,"v":0.676},{"sb":"E40C20","t":22.03,"v":0.755},{"sb":"E40C20","t":22.16,"v":0.644},{"sb":"E40C20","t":22.35,"v":0.604},{"sb":"E40C20","t":22.51,"v":0.713},{"sb":"E40C20","t":22.69,"v":0.637},{"sb":"E40C20","t":22.88,"v":0.663},{"sb":"E40C20","t":23.09,"v":0.591},{"sb":"E40C20","t":23.3,"v":0.653},{"sb":"E40C20","t":23.48,"v":0.65},{"sb":"E40C20","t":23.67,"v":0.663},{"sb":"E40C20","t":23.83,"v":0.611},{"sb":"E40C20","t":24.02,"v":0.637},{"sb":"E40C20","t":24.2,"v":0.578},{"sb":"E40C20","t":24.41,"v":0.65},{"sb":"E40C20","t":24.63,"v":0.683},{"sb":"E40C20","t":24.81,"v":0.611},{"sb":"E40C20","t":25.0,"v":0.67},{"sb":"E40C20","t":25.16,"v":0.683},{"sb":"E40C20","t":25.34,"v":0.709},{"sb":"E40C20","t":25.53,"v":0.65},{"sb":"E40C20","t":25.74,"v":0.598},{"sb":"E40C20","t":25.95,"v":0.637},{"sb":"E40C20","t":26.14,"v":0.644},{"sb":"E40C20","t":26.33,"v":0.617},{"sb":"E40C20","t":26.54,"v":0.65},{"sb":"E40C20","t":26.75,"v":0.65},{"sb":"E40C20","t":26.94,"v":0.611},{"sb":"E40C20","t":27.12,"v":0.722},{"sb":"E40C20","t":27.33,"v":0.65},{"sb":"E40C20","t":27.55,"v":0.611},{"sb":"E40C20","t":27.74,"v":0.657},{"sb":"E40C20","t":27.92,"v":0.753},{"sb":"E40C20","t":28.13,"v":0.716},{"sb":"E40C20","t":28.34,"v":0.653},{"sb":"E40C20","t":28.53,"v":0.65},{"sb":"E40C20","t":28.71,"v":0.624},{"sb":"E40C20","t":28.92,"v":0.565},{"sb":"E40C20","t":29.13,"v":0.598},{"sb":"E40C20","t":29.32,"v":0.644},{"sb":"E40C20","t":29.5,"v":0.611},{"sb":"E40C20","t":29.71,"v":0.653},{"sb":"E40C20","t":29.93,"v":0.644},{"sb":"E40C20","t":30.12,"v":0.624},{"sb":"E40C20","t":30.31,"v":0.617},{"sb":"E40C20","t":30.46,"v":0.584},{"sb":"E40C20","t":30.65,"v":0.653},{"sb":"E40C20","t":30.84,"v":0.683},{"sb":"E40C20","t":31.05,"v":0.784},{"sb":"E40C20","t":31.26,"v":0.68},{"sb":"E40C20","t":31.45,"v":0.644},{"sb":"E40C20","t":31.58,"v":0.578},{"sb":"E40C20","t":31.79,"v":0.613},{"sb":"E40C20","t":31.98,"v":0.65},{"sb":"E40C20","t":32.17,"v":0.716},{"sb":"E40C20","t":32.37,"v":0.696},{"sb":"E40C20","t":32.59,"v":0.637},{"sb":"E40C20","t":32.78,"v":0.613},{"sb":"E40C20","t":32.96,"v":0.65},{"sb":"E40C20","t":33.17,"v":0.571},{"sb":"E40C20","t":33.39,"v":0.65},{"sb":"E40C20","t":33.57,"v":0.571},{"sb":"E40C20","t":33.78,"v":0.65},{"sb":"E40C20","t":33.97,"v":0.637},{"sb":"E40C20","t":34.18,"v":0.598},{"sb":"E40C20","t":34.37,"v":0.657},{"sb":"E40C20","t":34.56,"v":0.731},{"sb":"E40C20","t":34.77,"v":0.709},{"sb":"E40C20","t":34.93,"v":0.683},
            {"sb":"E20C40","t":0.21,"v":0.007},{"sb":"E20C40","t":0.4,"v":-0.002},{"sb":"E20C40","t":0.66,"v":0.011},{"sb":"E20C40","t":0.85,"v":0.024},{"sb":"E20C40","t":1.01,"v":0.052},{"sb":"E20C40","t":1.19,"v":0.092},{"sb":"E20C40","t":1.46,"v":0.118},{"sb":"E20C40","t":1.64,"v":0.138},{"sb":"E20C40","t":1.86,"v":0.151},{"sb":"E20C40","t":2.07,"v":0.177},{"sb":"E20C40","t":2.25,"v":0.171},{"sb":"E20C40","t":2.52,"v":0.21},{"sb":"E20C40","t":2.71,"v":0.236},{"sb":"E20C40","t":2.92,"v":0.256},{"sb":"E20C40","t":3.13,"v":0.243},{"sb":"E20C40","t":3.32,"v":0.269},{"sb":"E20C40","t":3.58,"v":0.295},{"sb":"E20C40","t":3.77,"v":0.282},{"sb":"E20C40","t":3.98,"v":0.315},{"sb":"E20C40","t":4.19,"v":0.328},{"sb":"E20C40","t":4.38,"v":0.341},{"sb":"E20C40","t":4.64,"v":0.348},{"sb":"E20C40","t":4.83,"v":0.322},{"sb":"E20C40","t":5.04,"v":0.355},{"sb":"E20C40","t":5.25,"v":0.368},{"sb":"E20C40","t":5.44,"v":0.341},{"sb":"E20C40","t":5.63,"v":0.374},{"sb":"E20C40","t":5.84,"v":0.394},{"sb":"E20C40","t":6.05,"v":0.361},{"sb":"E20C40","t":6.24,"v":0.381},{"sb":"E20C40","t":6.42,"v":0.4},{"sb":"E20C40","t":6.63,"v":0.407},{"sb":"E20C40","t":6.85,"v":0.387},{"sb":"E20C40","t":7.03,"v":0.466},{"sb":"E20C40","t":7.22,"v":0.414},{"sb":"E20C40","t":7.43,"v":0.437},{"sb":"E20C40","t":7.64,"v":0.4},{"sb":"E20C40","t":7.83,"v":0.427},{"sb":"E20C40","t":8.02,"v":0.44},{"sb":"E20C40","t":8.23,"v":0.42},{"sb":"E20C40","t":8.44,"v":0.453},{"sb":"E20C40","t":8.63,"v":0.414},{"sb":"E20C40","t":8.81,"v":0.433},{"sb":"E20C40","t":9.02,"v":0.407},{"sb":"E20C40","t":9.29,"v":0.427},{"sb":"E20C40","t":9.55,"v":0.499},{"sb":"E20C40","t":9.76,"v":0.493},{"sb":"E20C40","t":9.95,"v":0.479},{"sb":"E20C40","t":10.14,"v":0.44},{"sb":"E20C40","t":10.35,"v":0.486},{"sb":"E20C40","t":10.56,"v":0.427},{"sb":"E20C40","t":10.75,"v":0.479},{"sb":"E20C40","t":10.93,"v":0.443},{"sb":"E20C40","t":11.14,"v":0.486},{"sb":"E20C40","t":11.36,"v":0.427},{"sb":"E20C40","t":11.55,"v":0.479},{"sb":"E20C40","t":11.73,"v":0.453},{"sb":"E20C40","t":11.94,"v":0.486},{"sb":"E20C40","t":12.16,"v":0.427},{"sb":"E20C40","t":12.34,"v":0.453},{"sb":"E20C40","t":12.53,"v":0.4},{"sb":"E20C40","t":12.74,"v":0.486},{"sb":"E20C40","t":12.96,"v":0.499},{"sb":"E20C40","t":13.14,"v":0.479},{"sb":"E20C40","t":13.33,"v":0.466},{"sb":"E20C40","t":13.54,"v":0.506},{"sb":"E20C40","t":13.75,"v":0.479},{"sb":"E20C40","t":13.93,"v":0.453},{"sb":"E20C40","t":14.12,"v":0.414},{"sb":"E20C40","t":14.28,"v":0.4},{"sb":"E20C40","t":14.46,"v":0.479},{"sb":"E20C40","t":14.65,"v":0.506},{"sb":"E20C40","t":14.86,"v":0.479},{"sb":"E20C40","t":15.07,"v":0.46},{"sb":"E20C40","t":15.26,"v":0.492},{"sb":"E20C40","t":15.44,"v":0.519},{"sb":"E20C40","t":15.66,"v":0.479},{"sb":"E20C40","t":15.87,"v":0.499},{"sb":"E20C40","t":16.05,"v":0.473},{"sb":"E20C40","t":16.24,"v":0.519},{"sb":"E20C40","t":16.45,"v":0.433},{"sb":"E20C40","t":16.67,"v":0.466},{"sb":"E20C40","t":16.93,"v":0.506},{"sb":"E20C40","t":17.25,"v":0.473},{"sb":"E20C40","t":17.46,"v":0.493},{"sb":"E20C40","t":17.73,"v":0.506},{"sb":"E20C40","t":17.91,"v":0.433},{"sb":"E20C40","t":18.1,"v":0.427},{"sb":"E20C40","t":18.31,"v":0.447},{"sb":"E20C40","t":18.79,"v":0.473},{"sb":"E20C40","t":18.98,"v":0.499},{"sb":"E20C40","t":19.24,"v":0.519},{"sb":"E20C40","t":19.43,"v":0.486},{"sb":"E20C40","t":19.69,"v":0.466},{"sb":"E20C40","t":19.91,"v":0.506},{"sb":"E20C40","t":20.04,"v":0.545},{"sb":"E20C40","t":20.3,"v":0.407},{"sb":"E20C40","t":20.49,"v":0.44},{"sb":"E20C40","t":20.7,"v":0.486},{"sb":"E20C40","t":20.91,"v":0.506},{"sb":"E20C40","t":21.18,"v":0.552},{"sb":"E20C40","t":21.37,"v":0.479},{"sb":"E20C40","t":21.56,"v":0.493},{"sb":"E20C40","t":21.76,"v":0.46},{"sb":"E20C40","t":21.98,"v":0.473},{"sb":"E20C40","t":22.16,"v":0.447},{"sb":"E20C40","t":22.35,"v":0.499},{"sb":"E20C40","t":22.56,"v":0.519},{"sb":"E20C40","t":22.77,"v":0.532},{"sb":"E20C40","t":22.96,"v":0.407},{"sb":"E20C40","t":23.15,"v":0.466},{"sb":"E20C40","t":23.36,"v":0.525},{"sb":"E20C40","t":23.56,"v":0.499},{"sb":"E20C40","t":23.75,"v":0.519},{"sb":"E20C40","t":23.94,"v":0.558},{"sb":"E20C40","t":24.15,"v":0.532},{"sb":"E20C40","t":24.36,"v":0.493},{"sb":"E20C40","t":24.55,"v":0.519},{"sb":"E20C40","t":24.81,"v":0.565},{"sb":"E20C40","t":25.0,"v":0.552},{"sb":"E20C40","t":25.21,"v":0.453},{"sb":"E20C40","t":25.42,"v":0.532},{"sb":"E20C40","t":25.61,"v":0.538},{"sb":"E20C40","t":25.87,"v":0.552},{"sb":"E20C40","t":26.06,"v":0.532},{"sb":"E20C40","t":26.27,"v":0.545},{"sb":"E20C40","t":26.49,"v":0.565},{"sb":"E20C40","t":26.75,"v":0.552},{"sb":"E20C40","t":26.94,"v":0.538},{"sb":"E20C40","t":27.12,"v":0.532},{"sb":"E20C40","t":27.33,"v":0.538},{"sb":"E20C40","t":27.6,"v":0.486},{"sb":"E20C40","t":27.81,"v":0.519},{"sb":"E20C40","t":28.0,"v":0.545},{"sb":"E20C40","t":28.18,"v":0.532},{"sb":"E20C40","t":28.4,"v":0.512},{"sb":"E20C40","t":28.61,"v":0.466},{"sb":"E20C40","t":28.8,"v":0.46},{"sb":"E20C40","t":28.98,"v":0.473},{"sb":"E20C40","t":29.19,"v":0.44},{"sb":"E20C40","t":29.4,"v":0.538},{"sb":"E20C40","t":29.58,"v":0.493},{"sb":"E20C40","t":29.77,"v":0.499},{"sb":"E20C40","t":29.98,"v":0.519},{"sb":"E20C40","t":30.19,"v":0.532},{"sb":"E20C40","t":30.38,"v":0.512},{"sb":"E20C40","t":30.57,"v":0.493},{"sb":"E20C40","t":30.78,"v":0.519},{"sb":"E20C40","t":30.99,"v":0.532},{"sb":"E20C40","t":31.18,"v":0.545},{"sb":"E20C40","t":31.37,"v":0.525},{"sb":"E20C40","t":31.58,"v":0.512},{"sb":"E20C40","t":31.79,"v":0.493},{"sb":"E20C40","t":31.98,"v":0.479},{"sb":"E20C40","t":32.24,"v":0.466},{"sb":"E20C40","t":32.51,"v":0.571},{"sb":"E20C40","t":32.78,"v":0.538},{"sb":"E20C40","t":32.96,"v":0.538},{"sb":"E20C40","t":33.17,"v":0.532},{"sb":"E20C40","t":33.44,"v":0.538},{"sb":"E20C40","t":33.7,"v":0.525},{"sb":"E20C40","t":33.97,"v":0.493},{"sb":"E20C40","t":34.24,"v":0.525},{"sb":"E20C40","t":34.56,"v":0.493},{"sb":"E20C40","t":34.77,"v":0.499},{"sb":"E20C40","t":34.98,"v":0.525},{"sb":"E20C40","t":35.24,"v":0.493},{"sb":"E20C40","t":35.43,"v":0.493},{"sb":"E20C40","t":35.56,"v":0.56},{"sb":"E20C40","t":35.69,"v":0.545},{"sb":"E20C40","t":35.88,"v":0.473}
          ]},
          "mark": {"type": "point", "filled": true, "opacity": 1},
          "encoding": {
            "x": {"field": "t", "type": "quantitative", "scale": {"domain": [-0.9, 36], "nice": false, "zero": false},
              "axis": {"orient": "bottom", "values": [0, 5, 10, 15, 20, 25, 30, 35], "title": "time (min)", "grid": false, "tickSize": 5, "tickWidth": 1.5, "domainWidth": 1.5, "domainColor": "#444", "tickColor": "#444", "labelColor": "#222", "titleColor": "#222", "labelFontSize": 15, "titleFontSize": 17, "titleFontWeight": "normal", "labelPadding": 5, "titleY": 41, "titleBaseline": "middle", "labelFlush": false}},
            "y": {"field": "v", "type": "quantitative", "scale": {"domain": [-0.05, 1.3], "nice": false, "zero": false},
              "axis": {"orient": "left", "values": [0, 0.1, 0.2, 0.3, 0.4, 0.5, 0.6, 0.7, 0.8, 0.9, 1.0, 1.1, 1.2, 1.3], "format": ".1f", "title": "Relative scales", "grid": false, "tickSize": 6, "tickWidth": 1.5, "domainWidth": 1.5, "domainColor": "#444", "tickColor": "#444", "labelColor": "#222", "titleColor": "#222", "labelFontSize": 15, "titleFontSize": 17, "titleFontWeight": "normal", "labelPadding": 5, "titleX": -50, "titleBaseline": "middle", "labelFlush": false}},
            "color": {"field": "sb", "type": "nominal", "scale": {"domain": ["E60", "C60", "E20", "E40C20", "E20C40"], "range": ["#1f8f1f", "#000000", "#ff8c1a", "#1a1ae6", "#f01414"]},
              "legend": {"orient": "none", "legendX": 224, "legendY": 16, "title": null, "strokeColor": "#808080", "fillColor": "white", "padding": 2, "symbolOffset": 4, "labelOffset": 16, "labelFontSize": 15, "labelLimit": 300, "labelColor": "#222", "rowPadding": 5.5, "symbolSize": 16, "labelExpr": "datum.label == 'E60' ? '60 µL ethanol' : datum.label == 'C60' ? '60 µL chloroform' : datum.label == 'E20' ? '20 µL ethanol' : datum.label == 'E40C20' ? '40 µL ethanol + 20 µL chloroform' : '20 µL ethanol + 40 µL chloroform'"}},
            "shape": {"field": "sb", "type": "nominal", "scale": {"domain": ["E60", "C60", "E20", "E40C20", "E20C40"], "range": ["circle", "circle", "circle", "triangle-up", "diamond"]},
              "legend": {"orient": "none", "legendX": 224, "legendY": 16, "title": null, "strokeColor": "#808080", "fillColor": "white", "padding": 2, "symbolOffset": 4, "labelOffset": 16, "labelFontSize": 15, "labelLimit": 300, "labelColor": "#222", "rowPadding": 5.5, "symbolSize": 16, "labelExpr": "datum.label == 'E60' ? '60 µL ethanol' : datum.label == 'C60' ? '60 µL chloroform' : datum.label == 'E20' ? '20 µL ethanol' : datum.label == 'E40C20' ? '40 µL ethanol + 20 µL chloroform' : '20 µL ethanol + 40 µL chloroform'"}},
            "size": {"field": "sb", "type": "nominal", "scale": {"domain": ["E60", "C60", "E20", "E40C20", "E20C40"], "range": [24, 22, 24, 34, 36]}, "legend": null}
          }
        },
        {
          "data": {"values": [{}]},
          "mark": {"type": "point", "opacity": 0},
          "encoding": {
            "x": {"datum": 0, "type": "quantitative", "axis": {"orient": "bottom", "values": [2.5, 7.5, 12.5, 17.5, 22.5, 27.5, 32.5], "labels": false, "domain": false, "title": null, "grid": false, "tickSize": 3, "tickWidth": 1.5, "tickColor": "#444"}},
            "y": {"datum": 0, "type": "quantitative", "axis": {"orient": "left", "values": [0.05, 0.15, 0.25, 0.35, 0.45, 0.55, 0.65, 0.75, 0.85, 0.95, 1.05, 1.15, 1.25], "labels": false, "domain": false, "title": null, "grid": false, "tickSize": 3, "tickWidth": 1.5, "tickColor": "#444"}}
          }
        },
        {
          "data": {"values": [{"t": 0.96, "v": 1.245, "lab": "(b)"}]},
          "mark": {"type": "text", "align": "left", "baseline": "middle", "fontSize": 26, "color": "#222"},
          "encoding": {
            "x": {"field": "t", "type": "quantitative", "axis": null},
            "y": {"field": "v", "type": "quantitative", "axis": null},
            "text": {"field": "lab"}
          }
        }
      ],
      "resolve": {"axis": {"x": "independent", "y": "independent"}}
    }
  ]
}
